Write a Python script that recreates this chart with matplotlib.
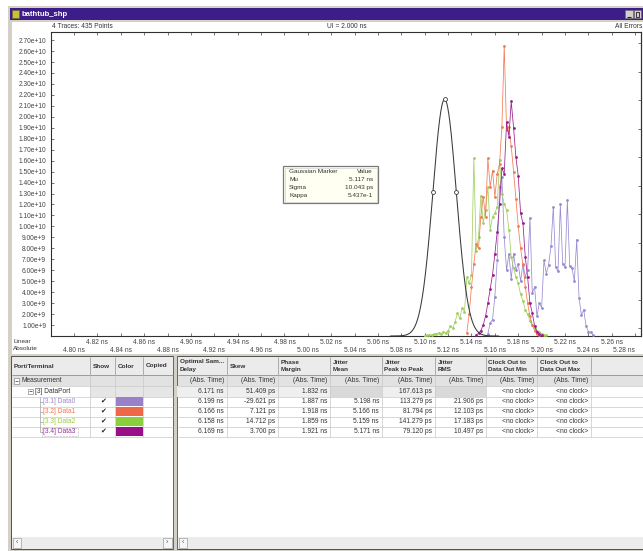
import numpy as np
import matplotlib
matplotlib.use("Agg")
import matplotlib.pyplot as plt
from matplotlib.patches import Rectangle

plt.rcParams['font.family'] = ['Liberation Sans', 'DejaVu Sans']

# ---------------- data ----------------
value_scale = 1e9            # trace values below are in units of 1e9
bin_ns = 0.002               # histogram bin width (ns)

data0_start = 5.154
data0_vals = [0.2, 1.2, 1.5, 3.6, 6.9, 13.6, 14.5, 9.0, 6.0, 7.5, 5.2, 7.5, 6.0, 6.6, 5.0,
              6.6, 5.4, 6.0, 10.8, 3.9, 4.5, 1.8, 3.0, 2.6, 6.9, 5.7, 6.5, 8.2, 11.8, 6.3,
              5.9, 12.0, 6.6, 6.3, 12.4, 6.4, 6.2, 5.0, 8.8, 3.5, 1.9, 2.4, 0.9, 0.4, 0.35, 0.1]

data1_start = 5.136
data1_vals = [0.3, 2.0, 4.5, 6.6, 8.4, 8.0, 10.9, 12.7, 10.9, 16.2, 13.6, 15.1, 12.7, 14.8,
              15.7, 19.1, 26.5, 18.8, 19.1, 17.3, 15.0, 12.5, 10.0, 8.0, 6.5, 4.5, 3.0, 1.8,
              1.0, 0.5, 0.2, 0.05]

data2_start = 5.100
data2_vals = [0.0, 0.05, 0.1, 0.1, 0.15, 0.2, 0.3, 0.2, 0.4, 0.3, 0.5, 0.9, 0.7, 1.3, 2.1,
              1.6, 2.6, 2.2, 5.4, 4.8, 5.6, 16.2, 7.8, 9.0, 12.8, 10.3, 11.5, 13.6, 9.7, 10.9,
              11.2, 11.8, 16.1, 13.0, 12.0, 11.5, 9.7, 7.2, 6.2, 5.4, 4.8, 3.8, 3.2, 2.4, 2.0,
              1.4, 1.0, 0.7, 0.5, 0.35, 0.2, 0.1, 0.05]

data3_start = 5.144
data3_vals = [0.1, 0.25, 0.5, 1.0, 1.8, 3.0, 4.3, 5.6, 7.5, 9.5, 12.0, 15.3, 14.8, 19.5,
              18.2, 21.4, 19.0, 16.3, 14.6, 11.2, 10.3, 7.2, 5.4, 3.0, 2.1, 0.9, 0.4, 0.15, 0.05]

gauss_mu_ns = 5.117
gauss_sigma_ps = 10.043
gauss_kappa = 0.5437

trace_colors = ['#9a8ad2', '#f27a52', '#a2d060', '#9c1c8c']
swatch_colors = ['#9a80c8', '#ee6848', '#8ccf3c', '#990f88']
name_colors = ['#9c88cc', '#f07850', '#99cc44', '#993399']

ytick_values = [v * 1e9 for v in range(1, 28)]
xticks_row1 = [4.82, 4.86, 4.90, 4.94, 4.98, 5.02, 5.06, 5.10, 5.14, 5.18, 5.22, 5.26]
xticks_row2 = [4.80, 4.84, 4.88, 4.92, 4.96, 5.00, 5.04, 5.08, 5.12, 5.16, 5.20, 5.24, 5.28]

info_rows = [("Gaussian Marker", "Value"), ("Mu", "5.117 ns"), ("Sigma", "10.043 ps"),
             ("Kappa", "5.437e-1")]

port_names = ["Measurement", "[3] DataPort", "[3.1] Data0", "[3.2] Data1", "[3.3] Data2",
              "[3.4] Data3"]
left_headers = ["Port/Terminal", "Show", "Color", "Copied"]
right_headers = [("Optimal Sam...", "Delay"), ("Skew", ""), ("Phase", "Margin"),
                 ("Jitter", "Mean"), ("Jitter", "Peak to Peak"), ("Jitter", "RMS"),
                 ("Clock Out to", "Data Out Min"), ("Clock Out to", "Data Out Max")]
col_optimal = ["(Abs. Time)", "6.171 ns", "6.199 ns", "6.166 ns", "6.158 ns", "6.169 ns"]
col_skew = ["(Abs. Time)", "51.409 ps", "-29.621 ps", "7.121 ps", "14.712 ps", "3.700 ps"]
col_phase = ["(Abs. Time)", "1.832 ns", "1.887 ns", "1.918 ns", "1.859 ns", "1.921 ns"]
col_jmean = ["(Abs. Time)", "", "5.198 ns", "5.166 ns", "5.159 ns", "5.171 ns"]
col_jpp = ["(Abs. Time)", "167.613 ps", "113.279 ps", "81.794 ps", "141.279 ps", "79.120 ps"]
col_jrms = ["(Abs. Time)", "", "21.906 ps", "12.103 ps", "17.183 ps", "10.497 ps"]
col_cmin = ["(Abs. Time)"] + ["<no clock>"] * 5
col_cmax = ["(Abs. Time)"] + ["<no clock>"] * 5
right_columns = [col_optimal, col_skew, col_phase, col_jmean, col_jpp, col_jrms, col_cmin, col_cmax]

# ---------------- figure / UI layer ----------------
W, H = 643, 551
fig = plt.figure(figsize=(W / 100, H / 100), dpi=100, facecolor='white')
bg = fig.add_axes([0, 0, 1, 1], zorder=0)
bg.set_xlim(0, W)
bg.set_ylim(H, 0)
bg.axis('off')

TXT = '#333333'


def rect(x0, y0, x1, y1, fc, ec='none', lw=0.6, z=1, ax=bg, ls='-'):
    ax.add_patch(Rectangle((x0, y0), x1 - x0, y1 - y0, facecolor=fc, edgecolor=ec,
                           linewidth=lw, zorder=z, linestyle=ls))


def line(xs, ys, c, lw=0.6, z=2, ax=bg):
    ax.plot(xs, ys, color=c, lw=lw, zorder=z, solid_capstyle='butt')


def txt(x, y, s, ha='left', size=5, color=TXT, weight='normal', ax=bg, z=3):
    ax.text(x, y, s, ha=ha, va='center', fontsize=size, color=color, weight=weight, zorder=z)


# window frame and title bar
rect(8, 6, 643, 551, '#d4d0c8')
rect(10, 8, 643, 20, '#3d1d8a')
rect(12, 9.5, 19, 17.5, '#c8c23a', ec='#6a6a20', lw=0.4)
txt(22, 14, "bathtub_shp", size=5.5, color='white', weight='bold')
rect(625, 10, 632.5, 18, '#d4d0c8', ec='#707070', lw=0.4)
rect(633.5, 10, 641, 18, '#d4d0c8', ec='#707070', lw=0.4)
line([627, 630.5], [16.5, 16.5], '#202020', lw=0.8, z=3)
rect(635.5, 12, 639, 16.5, 'none', ec='#202020', lw=0.6, z=3)

# chart panel
rect(12, 22, 643, 354, 'white')
txt(52, 27, "4 Traces: 435 Points", size=4.8)
txt(327, 27, "UI = 2.000 ns", size=4.8)
txt(642, 27, "All Errors", ha='right', size=4.8)
txt(13, 341.5, "Linear", size=4.6)
txt(13, 348.5, "Absolute", size=4.6)

# table panels
rect(11, 356, 173, 549, 'white', ec='#505050', lw=0.7)
rect(177, 356, 645, 549, 'white', ec='#505050', lw=0.7)

row_edges = [375, 386, 396.5, 406.5, 416.5, 426.5, 436.5]
left_edges = [11, 90, 115, 143, 173]
right_edges = [177, 227, 278, 330, 382, 435, 486, 537, 591]

# header backgrounds
rect(11.5, 356.5, 172.5, 375, '#ebebeb')
rect(177.5, 356.5, 643, 375, '#ebebeb')
# measurement row
rect(11.5, 375, 172.5, 386, '#e2e2e2')
rect(177.5, 375, 643, 386, '#e2e2e2')
# dataport row cells
rect(90, 386, 172.5, 396.5, '#e6e6e6')
dp_fill = ['#efefef', '#efefef', '#efefef', '#d9d9d9', '#efefef', '#d9d9d9', 'white', 'white']
for i, f in enumerate(dp_fill):
    rect(right_edges[i], 386, right_edges[i + 1], 396.5, f)

# grid lines
for y in row_edges[1:]:
    line([11.5, 172.5], [y, y], '#c8c8c8', lw=0.5)
    line([177.5, 643], [y, y], '#c8c8c8', lw=0.5)
line([11.5, 172.5], [375, 375], '#909090', lw=0.6)
line([177.5, 643], [375, 375], '#909090', lw=0.6)
for x in left_edges[1:-1]:
    line([x, x], [356.5, 375], '#a0a0a0', lw=0.6)
    line([x, x], [375, 436.5], '#c8c8c8', lw=0.5)
for x in right_edges[1:]:
    line([x, x], [356.5, 375], '#a0a0a0', lw=0.6)
    line([x, x], [375, 436.5], '#c8c8c8', lw=0.5)
line([175, 175], [356, 549], '#d4d0c8', lw=2.4)

# headers
HS = 4.6
txt(14, 366, left_headers[0], size=HS, weight='bold')
for i, h in enumerate(left_headers[1:]):
    txt(left_edges[i + 1] + 2.5, 366, h, size=HS, weight='bold')
for i, (h1, h2) in enumerate(right_headers):
    x = right_edges[i] + 2.5
    if h2:
        txt(x, 362, h1, size=HS, weight='bold')
        txt(x, 369.5, h2, size=HS, weight='bold')
    else:
        txt(x, 366, h1, size=HS, weight='bold')

row_mid = [(row_edges[i] + row_edges[i + 1]) / 2 for i in range(6)]

# tree column
rect(13.5, 378, 19, 383.5, 'white', ec='#707070', lw=0.4, z=3)
line([15, 17.5], [380.75, 380.75], '#303030', lw=0.5, z=4)
txt(22, row_mid[0], port_names[0], size=4.8)
rect(27.5, 388.5, 33, 394, 'white', ec='#707070', lw=0.4, z=3)
line([29, 31.5], [391.25, 391.25], '#303030', lw=0.5, z=4)
txt(35, row_mid[1], port_names[1], size=4.8)
line([40, 40], [396.5, row_mid[5]], '#a0a0a0', lw=0.5)
for i in range(4):
    r = i + 2
    line([40, 42.5], [row_mid[r], row_mid[r]], '#a0a0a0', lw=0.5)
    txt(43, row_mid[r], port_names[r], size=4.8, color=name_colors[i])
    txt(103, row_mid[r], "\u2714", ha='center', size=5, color='#202020')
    rect(115.5, row_edges[r] + 0.8, 142.5, row_edges[r + 1] - 0.8, swatch_colors[i], z=3)
rect(42, 427.5, 77.5, 435.5, 'none', ec='#707070', lw=0.4, z=3, ls=':')

# right table values
for c, vals in enumerate(right_columns):
    xr = right_edges[c + 1] - 3
    for r, v in enumerate(vals):
        if v:
            txt(xr, row_mid[r], v, ha='right', size=4.8)

# scrollbars
rect(11.5, 537, 172.5, 548.5, '#ececec')
rect(12.5, 538, 21, 547.5, '#f6f6f6', ec='#8a8a8a', lw=0.4, z=3)
rect(163, 538, 171.5, 547.5, '#f6f6f6', ec='#8a8a8a', lw=0.4, z=3)
txt(16.7, 542.8, "\u2039", ha='center', size=5, color='#505050', z=4)
txt(167.2, 542.8, "\u203a", ha='center', size=5, color='#505050', z=4)
rect(177.5, 537, 643, 548.5, '#ececec')
rect(178.5, 538, 187, 547.5, '#f6f6f6', ec='#8a8a8a', lw=0.4, z=3)
txt(182.7, 542.8, "\u2039", ha='center', size=5, color='#505050', z=4)

# ---------------- plot ----------------
ax = fig.add_axes([51 / W, 1 - 336 / H, (641 - 51) / W, (336 - 32) / H], zorder=1)
ax.set_facecolor('white')
ax.set_xlim(4.7803, 5.2850)
ax.set_ylim(0, 27.74e9)

traces = [(data0_start, data0_vals), (data2_start, data2_vals), (data1_start, data1_vals),
          (data3_start, data3_vals)]
colors_order = [trace_colors[0], trace_colors[2], trace_colors[1], trace_colors[3]]
for (start, vals), col in zip(traces, colors_order):
    t = start + bin_ns * np.arange(len(vals))
    v = np.array(vals) * value_scale
    ax.plot(t, v, color=col, lw=0.55, marker='o', ms=1.0, mfc=col, mec=col, zorder=3)

# Gaussian marker curve from displayed parameters
sig_ns = gauss_sigma_ps / 1000.0
tg = np.linspace(gauss_mu_ns - 4.6 * sig_ns, gauss_mu_ns + 4.6 * sig_ns, 300)
peak = gauss_kappa / (gauss_sigma_ps * 1e-12 * np.sqrt(2 * np.pi))
yg = peak * np.exp(-0.5 * ((tg - gauss_mu_ns) / sig_ns) ** 2)
ax.plot(tg, yg, color='#3a3a3a', lw=0.75, zorder=4)
tm = np.array([gauss_mu_ns - sig_ns, gauss_mu_ns, gauss_mu_ns + sig_ns])
ym = peak * np.exp(-0.5 * ((tm - gauss_mu_ns) / sig_ns) ** 2)
ax.plot(tm, ym, ls='none', marker='o', ms=2.8, mfc='white', mec='#3a3a3a', mew=0.6, zorder=5)


def sci(v):
    m, e = f"{v:.2e}".split("e")
    return f"{m}e+{int(e)}"


ax.set_yticks(ytick_values)
ax.set_yticklabels([sci(v) for v in ytick_values])
ax.set_xticks(xticks_row1)
ax.set_xticklabels([f"{v:.2f} ns" for v in xticks_row1])
ax.set_xticks(xticks_row2, minor=True)
ax.set_xticklabels([f"{v:.2f} ns" for v in xticks_row2], minor=True)
ax.get_xticklabels(minor=True)[-1].set_horizontalalignment('right')
ax.tick_params(axis='y', which='both', direction='in', length=2.2, width=0.5, pad=3.5,
               labelsize=4.8, labelcolor='#444444', color='#404040')
ax.tick_params(axis='x', which='major', direction='in', length=2.2, width=0.5, pad=2.4,
               labelsize=4.8, labelcolor='#444444', color='#404040', top=True)
ax.tick_params(axis='x', which='minor', direction='in', length=2.2, width=0.5, pad=8.2,
               labelsize=4.8, labelcolor='#444444', color='#404040', top=True)
for s in ax.spines.values():
    s.set_color('#303030')
    s.set_linewidth(0.8)
sec = ax.secondary_yaxis('right')
sec.set_yticks([26.7e9, 24.1e9, 21.5e9, 18.9e9, 16.3e9, 13.7e9, 11.1e9, 8.5e9, 5.9e9, 3.3e9, 0.7e9])
sec.set_yticklabels([])
sec.tick_params(direction='in', length=2.5, width=0.5, color='#404040')
sec.spines['right'].set_color('#303030')
sec.spines['right'].set_linewidth(0.8)

# ---------------- info box overlay ----------------
fg = fig.add_axes([0, 0, 1, 1], zorder=2)
fg.set_xlim(0, W)
fg.set_ylim(H, 0)
fg.axis('off')
fg.patch.set_alpha(0)
rect(283, 166, 378, 203, '#fffff2', ec='#7a7a7a', lw=0.9, ax=fg)
rect(284.5, 167.5, 376.5, 201.5, 'none', ec='#c8c8c8', lw=0.4, ax=fg)
for i, (a, b) in enumerate(info_rows):
    y = 171.8 + 7.8 * i
    txt(289, y, a, size=4.6, ax=fg)
    txt(373, y, b, ha='right', size=4.6, ax=fg)

fig.savefig("out.png", dpi=100, facecolor='white')
